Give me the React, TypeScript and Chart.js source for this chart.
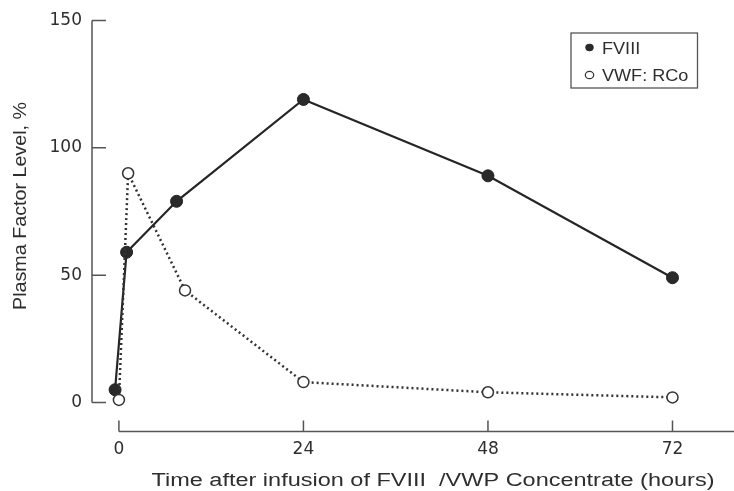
import React, { useEffect, useRef } from "react";
import { Chart, registerables } from "chart.js";

Chart.register(...registerables);

// ---- data ----
const seriesLabels = ["FVIII", "VWF: RCo"];
const fviiiHours = [-0.5, 1, 7.5, 24, 48, 72];
const fviiiLevel = [5, 59, 79, 119, 89, 49];
const vwfHours = [0, 1.2, 8.6, 24, 48, 72];
const vwfLevel = [1, 90, 44, 8, 4, 2];
const xTickValues = [0, 24, 48, 72];
const yTickValues = [0, 50, 100, 150];
const xTitle = "Time after infusion of FVIII  /VWP Concentrate (hours)";
const yTitle = "Plasma Factor Level, %";

const INK = "#2e2e2e";
const AXIS = "#555555";

function drawFitted(ctx: CanvasRenderingContext2D, text: string, cx: number, cy: number, width: number, angle: number) {
  ctx.save();
  ctx.translate(cx, cy);
  ctx.rotate(angle);
  const w = ctx.measureText(text).width;
  ctx.scale(width / w, 1);
  ctx.textAlign = "center";
  ctx.textBaseline = "middle";
  ctx.fillText(text, 0, 0);
  ctx.restore();
}

function drawStretched(ctx: CanvasRenderingContext2D, text: string, x: number, cy: number, sx: number) {
  ctx.save();
  ctx.translate(x, cy);
  ctx.scale(sx, 1);
  ctx.textAlign = "left";
  ctx.textBaseline = "middle";
  ctx.fillText(text, 0, 0);
  ctx.restore();
}

const paperAxes = {
  id: "paperAxes",
  beforeDatasetsDraw(chart: any) {
    const { ctx, chartArea, scales } = chart;
    const xs = scales.x;
    const ys = scales.y;
    ctx.save();
    ctx.strokeStyle = AXIS;
    ctx.lineWidth = 1.5;
    const yl = chartArea.left;
    ctx.beginPath();
    ctx.moveTo(yl, ys.getPixelForValue(yTickValues[0]));
    ctx.lineTo(yl, ys.getPixelForValue(yTickValues[yTickValues.length - 1]));
    for (const v of yTickValues) {
      const p = ys.getPixelForValue(v);
      ctx.moveTo(yl, p);
      ctx.lineTo(yl + 14, p);
    }
    ctx.stroke();
    const xb = chartArea.bottom;
    ctx.beginPath();
    ctx.moveTo(xs.getPixelForValue(xTickValues[0]), xb);
    ctx.lineTo(chart.width, xb);
    for (const v of xTickValues) {
      const p = xs.getPixelForValue(v);
      ctx.moveTo(p, xb);
      ctx.lineTo(p, xb - 11);
    }
    ctx.stroke();
    ctx.restore();
  },
  afterDraw(chart: any) {
    const { ctx } = chart;
    ctx.save();
    ctx.fillStyle = INK;
    // axis titles
    ctx.font = "18px 'Liberation Sans', Arial, sans-serif";
    drawFitted(ctx, xTitle, 433, 481, 563, 0);
    ctx.font = "19px 'Liberation Sans', Arial, sans-serif";
    drawFitted(ctx, yTitle, 20.5, 206, 208, -Math.PI / 2);

    // legend
    ctx.strokeStyle = AXIS;
    ctx.lineWidth = 1.3;
    ctx.strokeRect(571, 33, 126.5, 55);
    const rows = [
      { label: seriesLabels[0], my: 47.5, ty: 49.5, filled: true },
      { label: seriesLabels[1], my: 75, ty: 77, filled: false },
    ];
    ctx.font = "16px 'Liberation Sans', Arial, sans-serif";
    for (const r of rows) {
      ctx.beginPath();
      ctx.ellipse(589.5, r.my, 4.2, 3.7, 0, 0, Math.PI * 2);
      if (r.filled) {
        ctx.fillStyle = "#2a2a2a";
        ctx.fill();
      } else {
        ctx.fillStyle = "#ffffff";
        ctx.fill();
        ctx.strokeStyle = "#333";
        ctx.lineWidth = 1.2;
        ctx.stroke();
      }
      ctx.fillStyle = INK;
      drawStretched(ctx, r.label, 602, r.ty, 1.13);
    }
    ctx.restore();
  },
};

export default function App() {
  const ref = useRef<HTMLCanvasElement | null>(null);

  useEffect(() => {
    document.body.style.margin = "0";
    const canvas = ref.current;
    if (!canvas) return;
    const chart = new Chart(canvas, {
      type: "line",
      data: {
        datasets: [
          {
            label: seriesLabels[0],
            data: fviiiHours.map((h, i) => ({ x: h, y: fviiiLevel[i] })),
            borderColor: "#262626",
            borderWidth: 2.2,
            pointRadius: 6,
            pointBackgroundColor: "#2a2a2a",
            pointBorderColor: "#222",
            pointBorderWidth: 1,
            tension: 0,
            order: 2,
          },
          {
            label: seriesLabels[1],
            data: vwfHours.map((h, i) => ({ x: h, y: vwfLevel[i] })),
            borderColor: "#333",
            borderWidth: 2.5,
            borderDash: [2, 3],
            pointRadius: 5.5,
            pointBackgroundColor: "#ffffff",
            pointBorderColor: "#333",
            pointBorderWidth: 1.5,
            tension: 0,
            order: 1,
          },
        ],
      },
      options: {
        responsive: false,
        animation: false,
        layout: { autoPadding: false, padding: { top: 20.5, left: 0, right: 0, bottom: 0 } },
        plugins: { legend: { display: false }, tooltip: { enabled: false } },
        scales: {
          x: {
            type: "linear",
            position: "bottom",
            min: -3.5,
            max: 80,
            afterBuildTicks: (s: any) => {
              s.ticks = xTickValues.map((v) => ({ value: v }));
            },
            afterFit: (s: any) => {
              s.height = 59.5;
            },
            grid: { display: false, drawTicks: false },
            border: { display: false },
            ticks: {
              font: { family: "'DejaVu Sans'", size: 17 },
              color: INK,
              padding: 8,
              maxRotation: 0,
              autoSkip: false,
            },
          },
          y: {
            type: "linear",
            position: "left",
            min: -11.4,
            max: 150,
            afterBuildTicks: (s: any) => {
              s.ticks = yTickValues.map((v) => ({ value: v }));
            },
            afterFit: (s: any) => {
              s.width = 92;
            },
            grid: { display: false, drawTicks: false },
            border: { display: false },
            ticks: {
              font: { family: "'DejaVu Sans'", size: 17 },
              color: INK,
              padding: 10,
              autoSkip: false,
            },
          },
        },
      },
      plugins: [paperAxes],
    } as any);
    return () => chart.destroy();
  }, []);

  return (
    <div style={{ width: 734, height: 491, background: "#fff" }}>
      <canvas ref={ref} width={734} height={491} style={{ display: "block" }} />
    </div>
  );
}
